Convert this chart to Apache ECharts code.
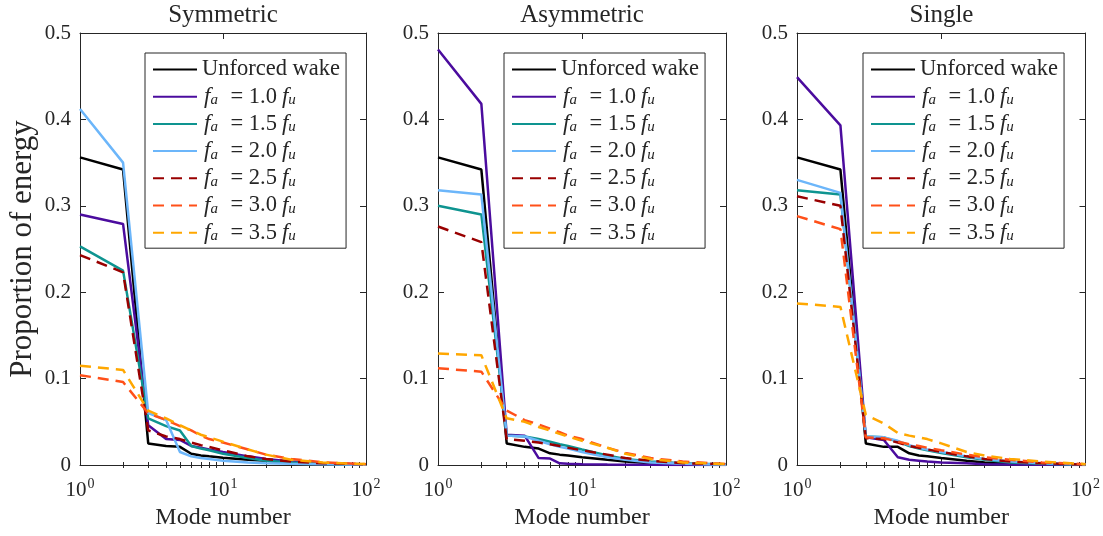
<!DOCTYPE html>
<html>
<head>
<meta charset="utf-8">
<script src="https://cdn.jsdelivr.net/npm/echarts@6/dist/echarts.min.js"></script>
<style>
  html, body { margin: 0; padding: 0; background: #fff; }
  #chart { width: 1103px; height: 536px; }
</style>
</head>
<body>
<div id="chart"></div>
<script>
const modes = [1, 2, 3, 4, 5, 6, 7, 8, 10, 15, 20, 30, 50, 100]

const panelTitles = ['Symmetric', 'Asymmetric', 'Single']
const seriesNames = ['Unforced wake', 'f_a = 1.0f_u', 'f_a = 1.5f_u', 'f_a = 2.0f_u', 'f_a = 2.5f_u', 'f_a = 3.0f_u', 'f_a = 3.5f_u']
const seriesColors = ['#000000', '#4b0c9e', '#0e9490', '#6cb6fa', '#990000', '#ff5019', '#ffa700']
const dashed = [false, false, false, false, true, true, true]
const yTicks = [0, 0.1, 0.2, 0.3, 0.4, 0.5]
const minorXTicks = [2, 3, 4, 5, 6, 7, 8, 9, 20, 30, 40, 50, 60, 70, 80, 90]

// Symmetric
const symUnforced = [0.356, 0.342, 0.025, 0.022, 0.021, 0.013, 0.011, 0.010, 0.0085, 0.006, 0.005, 0.003, 0.0015, 0.0005]
const symF10 = [0.290, 0.279, 0.046, 0.030, 0.029, 0.022, 0.020, 0.018, 0.015, 0.010, 0.007, 0.004, 0.002, 0.0005]
const symF15 = [0.253, 0.225, 0.054, 0.045, 0.040, 0.022, 0.019, 0.017, 0.013, 0.008, 0.005, 0.003, 0.0015, 0.0005]
const symF20 = [0.412, 0.350, 0.060, 0.052, 0.015, 0.010, 0.008, 0.007, 0.005, 0.003, 0.002, 0.0015, 0.001, 0.0003]
const symF25 = [0.243, 0.223, 0.040, 0.033, 0.030, 0.026, 0.023, 0.021, 0.017, 0.010, 0.007, 0.004, 0.002, 0.0008]
const symF30 = [0.104, 0.096, 0.060, 0.052, 0.045, 0.040, 0.034, 0.030, 0.026, 0.018, 0.012, 0.007, 0.003, 0.001]
const symF35 = [0.115, 0.110, 0.063, 0.054, 0.046, 0.040, 0.035, 0.032, 0.027, 0.018, 0.012, 0.006, 0.003, 0.001]

// Asymmetric
const asymUnforced = [0.356, 0.342, 0.025, 0.021, 0.019, 0.0135, 0.012, 0.011, 0.009, 0.006, 0.004, 0.002, 0.001, 0.0003]
const asymF10 = [0.481, 0.418, 0.035, 0.034, 0.008, 0.0075, 0.002, 0.0015, 0.001, 0.0005, 0.0003, 0.0002, 0.0001, 0]
const asymF15 = [0.300, 0.290, 0.034, 0.033, 0.030, 0.027, 0.024, 0.022, 0.018, 0.011, 0.007, 0.004, 0.002, 0.0005]
const asymF20 = [0.318, 0.313, 0.034, 0.033, 0.028, 0.024, 0.021, 0.019, 0.015, 0.009, 0.006, 0.003, 0.0015, 0.0003]
const asymF25 = [0.276, 0.258, 0.030, 0.028, 0.026, 0.024, 0.022, 0.020, 0.017, 0.012, 0.008, 0.005, 0.002, 0.001]
const asymF30 = [0.112, 0.108, 0.063, 0.052, 0.047, 0.042, 0.038, 0.034, 0.030, 0.020, 0.014, 0.008, 0.004, 0.001]
const asymF35 = [0.129, 0.127, 0.054, 0.050, 0.044, 0.040, 0.036, 0.033, 0.028, 0.020, 0.013, 0.007, 0.003, 0.001]

// Single
const singUnforced = [0.356, 0.342, 0.025, 0.021, 0.021, 0.0135, 0.011, 0.010, 0.008, 0.005, 0.003, 0.002, 0.001, 0.0003]
const singF10 = [0.449, 0.393, 0.032, 0.029, 0.009, 0.006, 0.005, 0.004, 0.003, 0.002, 0.001, 0.0005, 0.0002, 0]
const singF15 = [0.318, 0.313, 0.033, 0.032, 0.027, 0.022, 0.019, 0.017, 0.014, 0.009, 0.006, 0.003, 0.0015, 0.0004]
const singF20 = [0.330, 0.315, 0.033, 0.032, 0.028, 0.023, 0.020, 0.018, 0.015, 0.010, 0.007, 0.004, 0.002, 0.0005]
const singF25 = [0.311, 0.300, 0.031, 0.030, 0.026, 0.022, 0.020, 0.018, 0.015, 0.010, 0.007, 0.004, 0.002, 0.0005]
const singF30 = [0.288, 0.273, 0.032, 0.031, 0.027, 0.024, 0.022, 0.020, 0.017, 0.012, 0.009, 0.006, 0.003, 0.001]
const singF35 = [0.187, 0.183, 0.058, 0.048, 0.037, 0.034, 0.032, 0.030, 0.025, 0.015, 0.011, 0.007, 0.004, 0.001]

const panelData = [
  [symUnforced, symF10, symF15, symF20, symF25, symF30, symF35],
  [asymUnforced, asymF10, asymF15, asymF20, asymF25, asymF30, asymF35],
  [singUnforced, singF10, singF15, singF20, singF25, singF30, singF35],
]

const FONT = '"Liberation Serif", "DejaVu Serif", serif'
const INK = '#262626'
const gridLefts = [80, 438, 797]
const gridWidths = [286, 288, 289]
const legendLefts = [145, 504, 863]

const chart = echarts.init(document.getElementById('chart'), null, { renderer: 'canvas' })

const grids = [], xAxes = [], yAxes = [], series = [], titles = [], legends = []

panelTitles.forEach((title, p) => {
  grids.push({ left: gridLefts[p], width: gridWidths[p], top: 33, height: 432, containLabel: false })
  titles.push({
    text: title, left: gridLefts[p] + gridWidths[p] / 2, top: 3, textAlign: 'center', padding: 0,
    textStyle: { fontFamily: FONT, fontSize: 25, fontWeight: 'normal', color: INK },
  })
  const base = xAxes.length
  const logAxis = (pos, labels) => ({
    type: 'log', logBase: 10, min: 1, max: 100, gridIndex: p, position: pos,
    axisLine: { show: true, onZero: false, lineStyle: { color: INK, width: 1 } },
    axisTick: { show: true, inside: true, length: 6, lineStyle: { color: INK } },
    splitLine: { show: false }, minorTick: { show: false },
    axisLabel: labels ? {
      show: true, margin: 12, color: INK, fontFamily: FONT,
      formatter: v => '{b|10}{sup|' + Math.round(Math.log10(v)) + '}',
      rich: {
        b: { fontFamily: FONT, fontSize: 21, color: INK, lineHeight: 24, verticalAlign: 'bottom' },
        sup: { fontFamily: FONT, fontSize: 14, color: INK, lineHeight: 24, verticalAlign: 'top', padding: [0, 0, 0, 1] },
      },
    } : { show: false },
    name: labels ? 'Mode number' : '', nameLocation: 'middle', nameGap: 41,
    nameTextStyle: { fontFamily: FONT, fontSize: 24, color: INK },
  })
  xAxes.push(logAxis('bottom', true))
  xAxes.push(logAxis('top', false))
  // minor ticks of the log axis, placed on a linear axis in log10 space
  const minorAxis = pos => ({
    type: 'value', min: 0, max: 2, gridIndex: p, position: pos,
    axisLine: { show: false }, splitLine: { show: false }, axisLabel: { show: false },
    axisTick: { show: true, inside: true, length: 3, lineStyle: { color: INK }, customValues: minorXTicks.map(Math.log10) },
  })
  xAxes.push(minorAxis('bottom'))
  xAxes.push(minorAxis('top'))

  const yBase = yAxes.length
  const linAxis = (pos, labels) => ({
    type: 'value', min: 0, max: 0.5, interval: 0.1, gridIndex: p, position: pos,
    axisLine: { show: true, onZero: false, lineStyle: { color: INK, width: 1 } },
    axisTick: { show: true, inside: true, length: 6, lineStyle: { color: INK } },
    splitLine: { show: false },
    axisLabel: labels ? { show: true, margin: 9, color: INK, fontFamily: FONT, fontSize: 21, formatter: v => String(+v.toFixed(1)) } : { show: false },
    name: labels && p === 0 ? 'Proportion of energy' : '', nameLocation: 'middle', nameGap: 42,
    nameTextStyle: { fontFamily: FONT, fontSize: 31, color: INK },
  })
  yAxes.push(linAxis('left', true))
  yAxes.push(linAxis('right', false))

  panelData[p].forEach((vals, i) => {
    series.push({
      name: seriesNames[i], type: 'line', xAxisIndex: base, yAxisIndex: yBase,
      symbol: 'none', silent: true, animation: false,
      data: modes.map((m, k) => [m, vals[k]]),
      lineStyle: { color: seriesColors[i], width: 2.5, type: dashed[i] ? [11, 7] : 'solid' },
      itemStyle: { color: seriesColors[i] },
    })
  })

  legends.push({
    orient: 'vertical', left: legendLefts[p], top: 53,
    data: seriesNames, itemWidth: 44, itemHeight: 12, itemGap: 4.2,
    padding: [5, 6, 4, 7], borderColor: INK, borderWidth: 1, backgroundColor: '#fff',
    selectedMode: false,
    itemStyle: { opacity: 0 },
    formatter: name => {
      if (name === 'Unforced wake') return '{n|Unforced wake}'
      const num = name.slice(6, 9)
      return '{i|f}{sa|a}{n| = ' + num + '}{iu|f}{sub|u}'
    },
    textStyle: {
      fontFamily: FONT, fontSize: 22.5, color: INK, lineHeight: 22,
      rich: {
        n: { fontFamily: FONT, fontSize: 22.5, color: INK, lineHeight: 22 },
        i: { fontFamily: FONT, fontSize: 23, fontStyle: 'italic', color: INK, lineHeight: 22, padding: [0, 0, 0, 2] },
        iu: { fontFamily: FONT, fontSize: 23, fontStyle: 'italic', color: INK, lineHeight: 22, padding: [0, 0, 0, 5] },
        sa: { fontFamily: FONT, fontSize: 15, fontStyle: 'italic', color: INK, lineHeight: 16, verticalAlign: 'bottom', padding: [6, 7, 0, 0] },
        sub: { fontFamily: FONT, fontSize: 15, fontStyle: 'italic', color: INK, lineHeight: 16, verticalAlign: 'bottom', padding: [6, 0, 0, 0] },
      },
    },
  })
})

chart.setOption({
  animation: false,
  backgroundColor: '#fff',
  title: titles,
  legend: legends,
  grid: grids,
  xAxis: xAxes,
  yAxis: yAxes,
  series,
})
</script>
</body>
</html>
